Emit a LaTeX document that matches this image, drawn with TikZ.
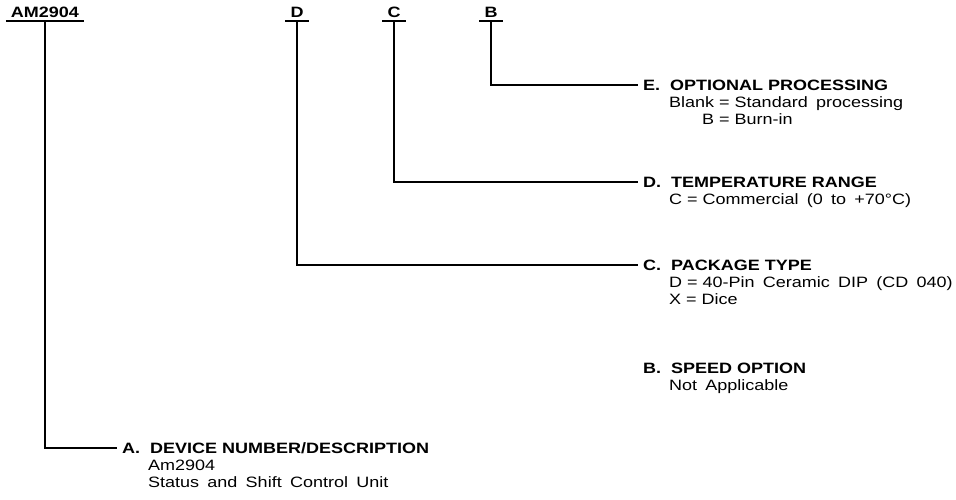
\documentclass[tikz,border=0pt]{standalone}
\usepackage{fontspec}
\setmainfont[FakeStretch=1.2]{Liberation Sans}
\newcommand\gp{\hskip 0.55em\relax}
\begin{document}
\begin{tikzpicture}[x=1pt,y=-1pt,
  every node/.style={inner sep=0pt,anchor=base west},
  ttl/.style={font=\fontsize{15}{18}\selectfont\bfseries},
  sub/.style={font=\fontsize{15}{18}\selectfont},
  code/.style={font=\fontsize{15}{18}\selectfont\bfseries,anchor=base},
  ln/.style={line width=1.3pt}]
\useasboundingbox (0,0) rectangle (956,500);
% codes
\node[code] (am) at (45,18) {AM2904};
\node[code] (cd) at (297,18) {D};
\node[code] (cc) at (394,18) {C};
\node[code] (cb) at (491,18) {B};
\foreach \n in {am,cd,cc,cb}{
  \draw[ln] ([xshift=-5pt,yshift=-3pt]\n.base west) -- ([xshift=5pt,yshift=-3pt]\n.base east);
}
\coordinate (ua) at (45,21);
\coordinate (ud) at (297,21);
\coordinate (uc) at (394,21);
\coordinate (ub) at (491,21);
% E
\node[ttl] (te) at (643,90.5) {E.\ \ OPTIONAL PROCESSING};
\node[sub] (e1) at (669,107.5) {Blank = Standard\gp processing};
\node[sub] (e2) at (702,124.5) {B = Burn-in};
% D
\node[ttl] (td) at (643,187.5) {D.\ \ TEMPERATURE RANGE};
\node[sub] (d1) at (669,204.5) {C = Commercial\gp (0\gp to\gp +70°C)};
% C
\node[ttl] (tc) at (643,270.5) {C.\ \ PACKAGE TYPE};
\node[sub] (c1) at (669,287.5) {D = 40-Pin\gp Ceramic\gp DIP\gp (CD\gp 040)};
\node[sub] (c2) at (669,304.5) {X = Dice};
% B
\node[ttl] (tb) at (643,373) {B.\ \ SPEED OPTION};
\node[sub] (b1) at (669,390) {Not\gp Applicable};
% A
\node[ttl] (ta) at (122,453.5) {A.\ \ DEVICE NUMBER/DESCRIPTION};
\node[sub] (a1) at (148,470.5) {Am2904};
\node[sub] (a2) at (148,487.5) {Status\gp and\gp Shift\gp Control\gp Unit};
% connectors
\coordinate (ee) at (638,85);
\coordinate (ed) at (638,182);
\coordinate (ec) at (638,265);
\coordinate (ea) at (117,448);
\draw[ln] (ub) |- (ee);
\draw[ln] (uc) |- (ed);
\draw[ln] (ud) |- (ec);
\draw[ln] (ua) |- (ea);
\end{tikzpicture}
\end{document}
